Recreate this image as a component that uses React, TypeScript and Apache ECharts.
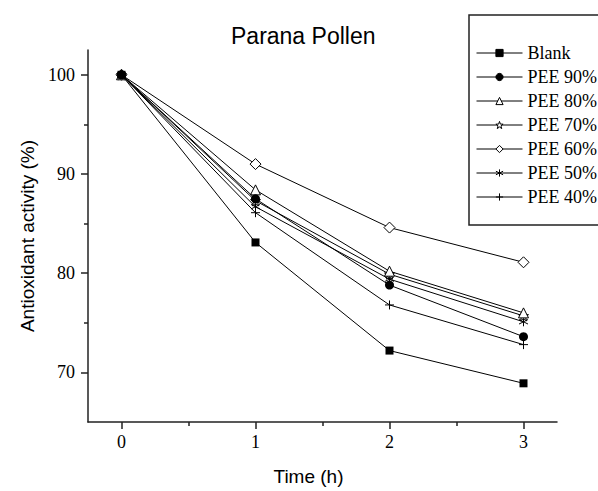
import React, { useEffect, useRef } from "react";
import * as echarts from "echarts";

const times = [0, 1, 2, 3];
const seriesNames = ["Blank", "PEE 90%", "PEE 80%", "PEE 70%", "PEE 60%", "PEE 50%", "PEE 40%"];
const blank = [100, 83.1, 72.2, 68.9];
const pee90 = [100, 87.5, 78.8, 73.6];
const pee80 = [100, 88.4, 80.2, 76.0];
const pee70 = [100, 87.3, 79.9, 75.7];
const pee60 = [100, 91.0, 84.6, 81.1];
const pee50 = [100, 86.7, 79.4, 75.1];
const pee40 = [100, 86.1, 76.8, 72.8];
const yMajorTicks = [70, 80, 90, 100];
const yMinorTicks = [75, 85, 95];
const xMajorTicks = [0, 1, 2, 3];
const xMinorTicks = [0.5, 1.5, 2.5];

const STAR =
  "path://M10 0L12.35 6.76L19.51 6.91L13.8 11.24L15.88 18.09L10 14L4.12 18.09L6.2 11.24L0.49 6.91L7.65 6.76Z";
const ASTER = "path://M5 0L5 10M0.7 2.5L9.3 7.5M0.7 7.5L9.3 2.5";
const PLUS = "path://M5 0L5 10M0 5L10 5";

const symbols = [
  { symbol: "rect", size: 8, fill: "#000" },
  { symbol: "circle", size: 9, fill: "#000" },
  { symbol: "triangle", size: 10, fill: "#fff" },
  { symbol: STAR, size: 10, fill: "#fff" },
  { symbol: "diamond", size: 11, fill: "#fff" },
  { symbol: ASTER, size: 9, fill: "#fff" },
  { symbol: PLUS, size: 9, fill: "#fff" },
];

const allValues = [blank, pee90, pee80, pee70, pee60, pee50, pee40];

export default function App() {
  const ref = useRef<HTMLDivElement>(null);
  useEffect(() => {
    if (!ref.current) return;
    const chart = echarts.init(ref.current, null, { renderer: "svg" });
    const serif = "'Liberation Serif', 'Times New Roman', serif";
    const sans = "'Liberation Sans', Arial, sans-serif";
    const series: any[] = seriesNames.map((name, i) => ({
      name,
      type: "line",
      xAxisIndex: 0,
      yAxisIndex: 0,
      data: times.map((t, j) => [t, allValues[i][j]]),
      symbol: symbols[i].symbol,
      symbolSize: symbols[i].size,
      showAllSymbol: true,
      lineStyle: { color: "#000", width: 1 },
      itemStyle: {
        color: symbols[i].fill,
        borderColor: "#000",
        borderWidth: i < 2 ? 0 : 1,
      },
      emphasis: { disabled: true },
      z: 10 - i,
    }));
    chart.setOption({
      animation: false,
      backgroundColor: "#fff",
      title: {
        text: "Parana Pollen",
        left: 231,
        top: 24,
        padding: 0,
        textStyle: { fontFamily: sans, fontSize: 23, fontWeight: "normal", color: "#000" },
      },
      legend: {
        data: seriesNames,
        orient: "vertical",
        left: 476,
        top: 44,
        padding: 0,
        itemWidth: 46,
        itemHeight: 9,
        itemGap: 6,
        lineStyle: { width: 1, color: "#000" },
        itemStyle: { borderWidth: 1, borderColor: "#000" },
        textStyle: { fontFamily: serif, fontSize: 18, color: "#000" },
      },
      graphic: [
        {
          type: "rect",
          shape: { x: 469, y: 15, width: 160, height: 210 },
          style: { fill: "none", stroke: "#222", lineWidth: 1.5 },
          z: 0,
        },
      ],
      grid: { left: 88, top: 50, width: 469, height: 375 },
      xAxis: [
        {
          type: "value",
          min: -0.25,
          max: 3.25,
          name: "Time (h)",
          nameLocation: "middle",
          nameGap: 45,
          nameTextStyle: { fontFamily: sans, fontSize: 19, color: "#000", padding: [0, 28, 0, 0] },
          axisLine: { show: true, onZero: false, lineStyle: { color: "#222", width: 1.5 } },
          axisTick: { show: true, length: 7, customValues: xMajorTicks, lineStyle: { color: "#222", width: 1.5 } },
          axisLabel: {
            show: true,
            customValues: xMajorTicks,
            margin: 11,
            fontFamily: serif,
            fontSize: 18,
            color: "#000",
          },
          splitLine: { show: false },
        },
        {
          type: "value",
          min: -0.25,
          max: 3.25,
          position: "bottom",
          axisLine: { show: false, onZero: false },
          axisTick: { show: true, length: 4, customValues: xMinorTicks, lineStyle: { color: "#222", width: 1.5 } },
          axisLabel: { show: false },
          splitLine: { show: false },
        },
      ],
      yAxis: [
        {
          type: "value",
          min: 65,
          max: 102.5,
          name: "Antioxidant activity (%)",
          nameLocation: "middle",
          nameGap: 48,
          nameTextStyle: { fontFamily: sans, fontSize: 19, color: "#000" },
          axisLine: { show: true, onZero: false, lineStyle: { color: "#222", width: 1.5 } },
          axisTick: { show: true, length: 7, customValues: yMajorTicks, lineStyle: { color: "#222", width: 1.5 } },
          axisLabel: {
            show: true,
            customValues: yMajorTicks,
            margin: 13,
            fontFamily: serif,
            fontSize: 18,
            color: "#000",
          },
          splitLine: { show: false },
        },
        {
          type: "value",
          min: 65,
          max: 102.5,
          position: "left",
          axisLine: { show: false, onZero: false },
          axisTick: { show: true, length: 4, customValues: yMinorTicks, lineStyle: { color: "#222", width: 1.5 } },
          axisLabel: { show: false },
          splitLine: { show: false },
        },
      ],
      series,
    });
    return () => chart.dispose();
  }, []);
  return (
    <div
      ref={ref}
      style={{ position: "fixed", left: 0, top: 0, width: 598, height: 491, background: "#fff" }}
    />
  );
}
